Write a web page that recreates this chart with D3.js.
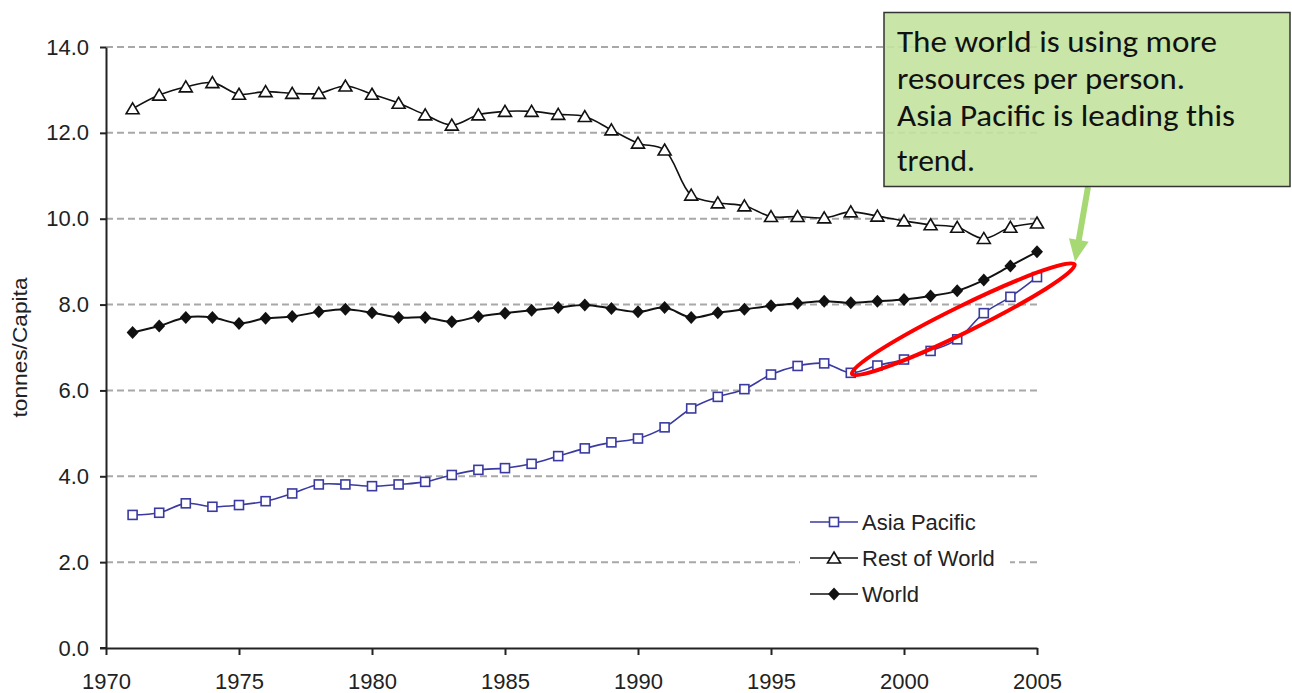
<!DOCTYPE html>
<html>
<head>
<meta charset="utf-8">
<script src="https://cdn.jsdelivr.net/npm/d3@7"></script>
<style>
  html, body { margin: 0; padding: 0; background: #fff; }
  svg { display: block; }
</style>
</head>
<body>
<svg id="chart" width="1292" height="693"></svg>
<script>
// ---------- data ----------
const years = [1971,1972,1973,1974,1975,1976,1977,1978,1979,1980,
               1981,1982,1983,1984,1985,1986,1987,1988,1989,1990,
               1991,1992,1993,1994,1995,1996,1997,1998,1999,2000,
               2001,2002,2003,2004,2005];
const asiaPacific = [3.10,3.15,3.37,3.29,3.33,3.42,3.60,3.81,3.81,3.77,
                     3.81,3.87,4.03,4.15,4.19,4.29,4.47,4.65,4.79,4.88,
                     5.14,5.58,5.85,6.03,6.37,6.57,6.63,6.41,6.58,6.72,
                     6.92,7.19,7.80,8.18,8.64];
const restOfWorld = [12.56,12.88,13.07,13.17,12.90,12.96,12.92,12.92,13.09,12.90,
                     12.69,12.42,12.18,12.42,12.50,12.50,12.43,12.38,12.07,11.76,
                     11.60,10.55,10.37,10.30,10.05,10.05,10.02,10.16,10.06,9.95,
                     9.86,9.80,9.54,9.80,9.90];
const world = [7.35,7.50,7.70,7.70,7.56,7.68,7.72,7.83,7.89,7.81,
               7.70,7.70,7.60,7.72,7.80,7.87,7.93,7.99,7.91,7.83,
               7.93,7.70,7.81,7.89,7.97,8.03,8.08,8.04,8.08,8.12,
               8.20,8.32,8.57,8.90,9.23];
const xTicks = [1970,1975,1980,1985,1990,1995,2000,2005];
const yTicks = [0,2,4,6,8,10,12,14];
const seriesNames = ["Asia Pacific","Rest of World","World"];
const axisTitle = "tonnes/Capita";
const calloutLines = ["The world is using more","resources per person.","Asia Pacific is leading this","trend."];

// ---------- setup ----------
const svg = d3.select("#chart");
const x = d3.scaleLinear().domain([1970, 2005]).range([106, 1037]);
const y = d3.scaleLinear().domain([0, 14]).range([648, 47]);
const FONT = "'Liberation Sans', Arial, sans-serif";

// gridlines
svg.append("g").selectAll("line").data(yTicks.filter(d => d > 0)).join("line")
  .attr("x1", x(1970)).attr("x2", x(2005))
  .attr("y1", d => y(d)).attr("y2", d => y(d))
  .attr("stroke", "#a8a8a8").attr("stroke-width", 2)
  .attr("stroke-dasharray", "7,4");

// axes
const xAxis = svg.append("g").attr("transform", `translate(0,${y(0)})`)
  .call(d3.axisBottom(x).tickValues(xTicks).tickFormat(d3.format("d")).tickSize(7).tickPadding(18).tickSizeOuter(0));
const yAxis = svg.append("g").attr("transform", `translate(${x(1970)},0)`)
  .call(d3.axisLeft(y).tickValues(yTicks).tickFormat(d3.format(".1f")).tickSize(6).tickPadding(11).tickSizeOuter(0));
[xAxis, yAxis].forEach(g => {
  g.select(".domain").attr("stroke", "#222").attr("stroke-width", 2);
  g.selectAll(".tick line").attr("stroke", "#222").attr("stroke-width", 2);
  g.selectAll(".tick text").attr("font-family", FONT).attr("font-size", 22).attr("fill", "#222");
});
svg.append("line").attr("x1", x(1970) - 6).attr("x2", x(1970))
  .attr("y1", y(0)).attr("y2", y(0)).attr("stroke", "#222").attr("stroke-width", 2);

svg.append("text").text(axisTitle)
  .attr("transform", `translate(27,${(y(0)+y(14))/2}) rotate(-90)`)
  .attr("text-anchor", "middle").attr("font-family", FONT).attr("font-size", 20)
  .attr("fill", "#222").attr("textLength", 140).attr("lengthAdjust", "spacingAndGlyphs");

// ---------- series ----------
const line = vals => d3.line().curve(d3.curveCatmullRom.alpha(0.5))
  .x((d, i) => x(years[i])).y(d => y(d))(vals);

const styles = [
  { vals: asiaPacific, color: "#3a3aa0", width: 1.6, marker: "square" },
  { vals: restOfWorld, color: "#111", width: 1.6, marker: "triangle" },
  { vals: world, color: "#111", width: 2, marker: "diamond" }
];

function drawMarker(g, type, color) {
  if (type === "square") {
    g.append("rect").attr("x", -4.5).attr("y", -4.5).attr("width", 9).attr("height", 9)
      .attr("fill", "#fff").attr("stroke", color).attr("stroke-width", 1.6);
  } else if (type === "triangle") {
    g.append("path").attr("d", "M0,-6 L6.5,5 L-6.5,5 Z")
      .attr("fill", "#fff").attr("stroke", color).attr("stroke-width", 1.6);
  } else {
    g.append("path").attr("d", "M0,-6.5 L6,0 L0,6.5 L-6,0 Z").attr("fill", color);
  }
}

styles.forEach(s => {
  svg.append("path").attr("d", line(s.vals)).attr("fill", "none")
    .attr("stroke", s.color).attr("stroke-width", s.width);
});
styles.forEach(s => {
  s.vals.forEach((v, i) => {
    const g = svg.append("g").attr("transform", `translate(${x(years[i])},${y(v)})`);
    drawMarker(g, s.marker, s.color);
  });
});

// ---------- legend ----------
const lg = svg.append("g");
lg.append("rect").attr("x", 800).attr("y", 500).attr("width", 210).attr("height", 112).attr("fill", "#fff");
seriesNames.forEach((name, i) => {
  const yy = 522 + i * 36;
  const s = styles[i];
  lg.append("line").attr("x1", 810).attr("x2", 858).attr("y1", yy).attr("y2", yy)
    .attr("stroke", s.color).attr("stroke-width", 1.6);
  const g = lg.append("g").attr("transform", `translate(834,${yy})`);
  drawMarker(g, s.marker, s.color);
  lg.append("text").text(name).attr("x", 862).attr("y", yy + 8)
    .attr("font-family", FONT).attr("font-size", 22).attr("fill", "#222");
});

// ---------- annotations ----------
const ecx = x(2002.23), ecy = y(7.66);
svg.append("ellipse").attr("cx", 0).attr("cy", 0).attr("rx", 124).attr("ry", 13)
  .attr("transform", `translate(${ecx},${ecy}) rotate(-26.2)`)
  .attr("fill", "none").attr("stroke", "#ff0000").attr("stroke-width", 4);

// green arrow from callout to ellipse
const ax0 = 1088, ay0 = 187, ax1 = x(2006.43), ay1 = y(9.0);
const ang = Math.atan2(ay1 - ay0, ax1 - ax0);
const headLen = 22, headW = 10, shaftW = 3;
const bx = ax1 - headLen * Math.cos(ang), by = ay1 - headLen * Math.sin(ang);
const px = -Math.sin(ang), py = Math.cos(ang);
svg.append("path").attr("d",
  `M${ax0 + px*shaftW},${ay0 + py*shaftW} L${bx + px*shaftW},${by + py*shaftW} L${bx + px*headW},${by + py*headW} L${ax1},${ay1} L${bx - px*headW},${by - py*headW} L${bx - px*shaftW},${by - py*shaftW} L${ax0 - px*shaftW},${ay0 - py*shaftW} Z`)
  .attr("fill", "#a6d873");

// callout box
svg.append("rect").attr("x", 884).attr("y", 12.5).attr("width", 406).attr("height", 174)
  .attr("fill", "#c3e29e").attr("fill-opacity", 0.9).attr("stroke", "#333").attr("stroke-width", 1.5);
const baselines = [52, 89, 126, 171];
const lineWidths = [320, 288, 338, 78];
calloutLines.forEach((t, i) => {
  svg.append("text").text(t).attr("x", 897).attr("y", baselines[i])
    .attr("font-family", "Carlito, Calibri, Lato, sans-serif").attr("font-size", 31).attr("fill", "#111")
    .attr("textLength", lineWidths[i]).attr("lengthAdjust", "spacingAndGlyphs");
});
</script>
</body>
</html>
